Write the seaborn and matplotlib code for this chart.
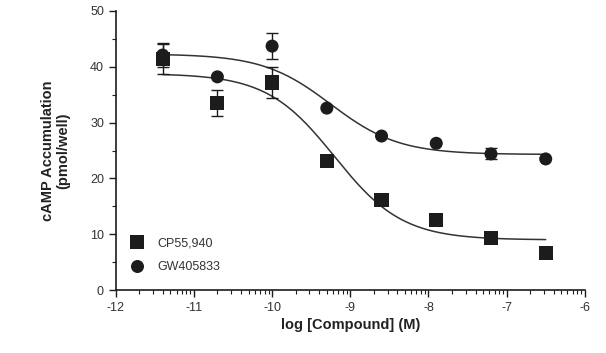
import numpy as np
import pandas as pd
import matplotlib
matplotlib.use("Agg")
import matplotlib.pyplot as plt
import seaborn as sns

# ---- data ----
log_conc = [-11.4, -10.7, -10.0, -9.3, -8.6, -7.9, -7.2, -6.5]
cp_values = [41.4, 33.5, 37.2, 23.1, 16.1, 12.5, 9.3, 6.6]
cp_err = [2.7, 2.4, 2.7, 0.0, 0.0, 0.0, 0.0, 0.0]
gw_values = [42.1, 38.2, 43.7, 32.6, 27.6, 26.3, 24.4, 23.5]
gw_err = [2.2, 0.0, 2.3, 0.0, 0.0, 0.0, 1.0, 0.0]
series_names = ["CP55,940", "GW405833"]
# sigmoidal fit parameters (top, bottom, logEC50, hill)
cp_fit = [38.8, 9.0, -9.2, 1.0]
gw_fit = [42.3, 24.3, -9.25, 1.0]
x_ticks = [-12, -11, -10, -9, -8, -7, -6]
y_ticks = [0, 10, 20, 30, 40, 50]

sns.set_style("ticks")
plt.rcParams["font.family"] = ["Liberation Sans", "DejaVu Sans"]
plt.rcParams["axes.unicode_minus"] = False

ink = "#1c1c1c"

pts = pd.DataFrame({
    "x": log_conc * 2,
    "y": cp_values + gw_values,
    "err": cp_err + gw_err,
    "series": [series_names[0]] * len(log_conc) + [series_names[1]] * len(log_conc),
})

def sigmoid(x, p):
    top, bottom, ec50, hill = p
    return bottom + (top - bottom) / (1 + 10 ** ((x - ec50) * hill))

xs = np.linspace(min(log_conc), max(log_conc), 200)
curves = pd.DataFrame({
    "x": np.concatenate([xs, xs]),
    "y": np.concatenate([sigmoid(xs, cp_fit), sigmoid(xs, gw_fit)]),
    "series": [series_names[0]] * len(xs) + [series_names[1]] * len(xs),
})

fig = plt.figure(figsize=(6.06, 3.53), dpi=100)
ax = fig.add_axes([0.191, 0.178, 0.774, 0.791])

sns.lineplot(data=curves, x="x", y="y", hue="series",
             palette={series_names[0]: "#333333", series_names[1]: "#333333"},
             linewidth=1.1, legend=False, ax=ax, zorder=1)

for name, vals, errs in [(series_names[0], cp_values, cp_err), (series_names[1], gw_values, gw_err)]:
    xe = [x for x, e in zip(log_conc, errs) if e > 0]
    ye = [y for y, e in zip(vals, errs) if e > 0]
    ee = [e for e in errs if e > 0]
    ax.errorbar(xe, ye, yerr=ee, fmt="none", ecolor=ink, elinewidth=1.0,
                capsize=4, capthick=1.0, zorder=2)

sns.scatterplot(data=pts, x="x", y="y", style="series",
                markers={series_names[0]: "s", series_names[1]: "o"},
                size="series", sizes={series_names[0]: 105, series_names[1]: 88},
                color=ink, edgecolor=ink, linewidth=0, ax=ax, zorder=3)

ax.set_xlim(-12, -6)
ax.set_ylim(0, 50)
ax.set_xticks(x_ticks)
ax.set_yticks(y_ticks)
minor_x = [d + np.log10(k) for d in range(-12, -6) for k in range(2, 10)]
ax.set_xticks(minor_x, minor=True)
ax.set_yticks([5, 15, 25, 35, 45], minor=True)

ax.tick_params(axis="both", which="major", length=5, width=1.0, colors=ink,
               labelsize=9, labelcolor="#333333")
ax.tick_params(axis="both", which="minor", length=3, width=0.8, colors=ink)
for s in ["left", "bottom"]:
    ax.spines[s].set_color(ink)
    ax.spines[s].set_linewidth(1.2)
sns.despine(ax=ax)

ax.set_xlabel("log [Compound] (M)", fontsize=10.5, fontweight="bold", color="#222222", labelpad=3)
ax.set_ylabel("cAMP Accumulation\n(pmol/well)", fontsize=10.5, fontweight="bold",
              color="#222222", labelpad=14, linespacing=1.1)

handles, labels = ax.get_legend_handles_labels()
leg = ax.legend(handles=handles, labels=labels, loc="lower left",
                bbox_to_anchor=(0.0, 0.03), frameon=False, fontsize=9,
                handletextpad=0.6, labelspacing=0.95, borderaxespad=0.3)
for t in leg.get_texts():
    t.set_color("#333333")

fig.savefig("out.png", dpi=100)
